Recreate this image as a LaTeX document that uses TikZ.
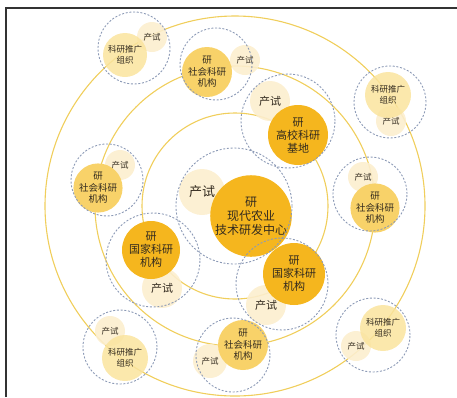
\documentclass[tikz,border=0pt]{standalone}
\usepackage{fontspec}
\newfontfamily\cjk{Noto Sans CJK SC}
\definecolor{ringline}{RGB}{240,206,92}
\definecolor{zoneline}{RGB}{140,154,182}
\definecolor{gold}{RGB}{245,182,30}
\definecolor{midgold}{RGB}{248,210,105}
\definecolor{paleg}{RGB}{250,228,158}
\definecolor{cream}{RGB}{252,238,206}
\definecolor{ink}{RGB}{50,42,30}
\begin{document}
\begin{tikzpicture}[x=1pt,y=-1pt,
	ring/.style={draw=ringline,line width=1.1pt},
	zone/.style={circle,draw=zoneline,line width=0.9pt,dash pattern=on 2pt off 1.7pt,minimum size=#1,inner sep=0pt},
	yan/.style={circle,fill=gold,minimum size=#1,inner sep=0pt,align=center,text=ink},
	she/.style={yan=#1,fill=midgold},
	tui/.style={yan=#1,fill=paleg,fill opacity=0.85,text opacity=1},
	shi/.style={yan=#1,fill=cream,fill opacity=0.9,text opacity=1},
	txtS/.style={font=\cjk\fontsize{8.5}{11}\selectfont},
	txtM/.style={font=\cjk\fontsize{9.5}{11.5}\selectfont},
	txtL/.style={font=\cjk\fontsize{11}{13}\selectfont},
	txtXL/.style={font=\cjk\fontsize{12}{14}\selectfont},
	txtH/.style={font=\cjk\fontsize{13}{15}\selectfont}]
	\useasboundingbox (0,0) rectangle (457,397);
	\draw[line width=1.2pt,black!80] (6,397) -- (6,8) -- (457,8);
	\draw[ring] (235,206) circle (93pt);
	\draw[ring] (235,206) circle (140pt);
	\draw[ring] (235,206) circle (190pt);
	% 产试
	\node[shi=30pt,txtS] (ashi) at (152,37) {产试};
	\node[shi=30pt,txtS] (bshi) at (245,60) {产试};
	\node[shi=40pt,txtL] (cshi) at (270,101) {产试};
	\node[shi=30pt,txtS] (dshi) at (391,121) {产试};
	\node[shi=30pt,txtS] (eshi) at (120,165) {产试};
	\node[shi=30pt,txtS] (fshi) at (363,177) {产试};
	\node[shi=40pt,txtL] (gshi) at (162,288) {产试};
	\node[shi=46pt,txtH] (hshi) at (202,192) {产试};
	\node[shi=40pt,txtL] (ishi) at (266,305) {产试};
	\node[shi=30pt,txtS] (jshi) at (110,331) {产试};
	\node[shi=34pt,txtS] (kshi) at (210,361) {产试};
	\node[shi=30pt,txtS] (lshi) at (356,346) {产试};
	% 研
	\node[tui=44pt,txtS] (atui) at (125,55) {科研推广\\组织};
	\node[she=50pt,txtM] (bshe) at (207,72) {研\\社会科研\\机构};
	\node[yan=60pt,txtL] (cyan) at (298,135) {研\\高校科研\\基地};
	\node[tui=46pt,txtS] (dtui) at (388,95) {科研推广\\组织};
	\node[she=46pt,txtM] (eshe) at (98,188) {研\\社会科研\\机构};
	\node[she=48pt,txtM] (fshe) at (375,208) {研\\社会科研\\机构};
	\node[yan=58pt,txtL] (gyan) at (151,250) {研\\国家科研\\机构};
	\node[yan=76pt,txtXL] (hyan) at (251,216) {研\\现代农业\\技术研发中心};
	\node[yan=62pt,txtL] (iyan) at (294,274) {研\\国家科研\\机构};
	\node[tui=46pt,txtS] (jtui) at (125,358) {科研推广\\组织};
	\node[she=50pt,txtM] (kshe) at (243,345) {研\\社会科研\\机构};
	\node[tui=46pt,txtS] (ltui) at (383,328) {科研推广\\组织};
	% dashed zones
	\node[zone=72pt] (azone) at (134,48) {};
	\node[zone=72pt] (bzone) at (216,64) {};
	\node[zone=94pt] (czone) at (288,121) {};
	\node[zone=72pt] (dzone) at (390,102) {};
	\node[zone=72pt] (ezone) at (107,180) {};
	\node[zone=74pt] (fzone) at (370,194) {};
	\node[zone=94pt] (gzone) at (153,260) {};
	\node[zone=116pt] (hzone) at (234,206) {};
	\node[zone=92pt] (izone) at (282,284) {};
	\node[zone=74pt] (jzone) at (120,347) {};
	\node[zone=74pt] (kzone) at (233,355) {};
	\node[zone=74pt] (lzone) at (373,335) {};
\end{tikzpicture}
\end{document}
